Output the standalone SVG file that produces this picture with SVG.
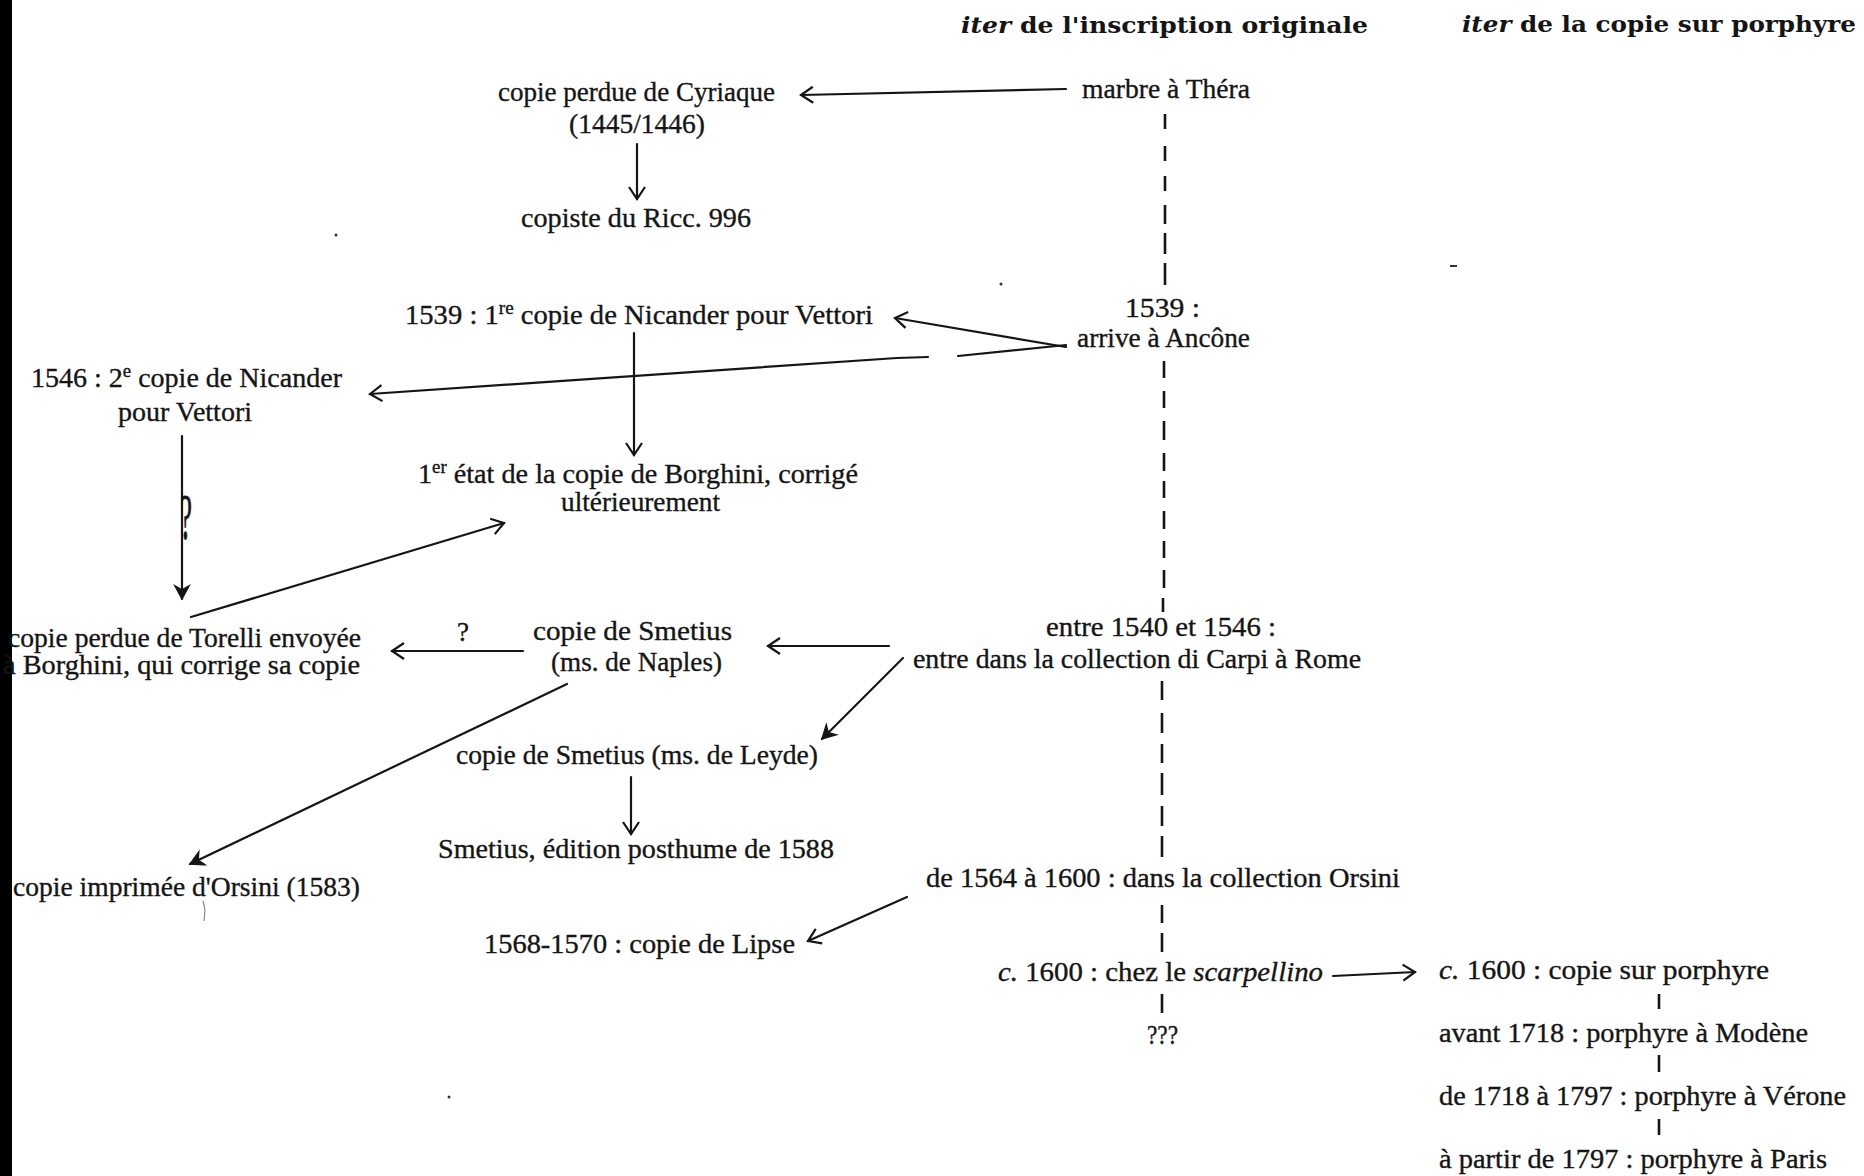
<svg xmlns="http://www.w3.org/2000/svg" width="1864" height="1176" viewBox="0 0 1864 1176">
<style>
.t{font-family:"Liberation Serif","Times New Roman",serif;font-size:27px;fill:#151515;stroke:#151515;stroke-width:0.35}
.h{font-family:"DejaVu Serif","Liberation Serif",serif;font-size:22px;font-weight:bold;fill:#151515}
.c{fill:none;stroke:#151515;stroke-width:2.2;stroke-linecap:round}
.d{fill:none;stroke:#151515;stroke-width:2.6}
.sup{font-size:18px}
</style>
<defs>
<marker id="open" viewBox="-15 -11 17 22" refX="0" refY="0" markerWidth="17" markerHeight="22" orient="auto" markerUnits="userSpaceOnUse">
<path d="M-12,-8 L0,0 L-12,8" fill="none" stroke="#151515" stroke-width="2.2"/>
</marker>
<marker id="solid" viewBox="-15 -11 17 22" refX="0" refY="0" markerWidth="17" markerHeight="22" orient="auto" markerUnits="userSpaceOnUse">
<path d="M-13,-7 L0,0 L-13,7 L-9,0 Z" fill="#151515" stroke="#151515" stroke-width="1.5"/>
</marker>
</defs>
<rect width="1864" height="1176" fill="#ffffff"/>
<rect x="0" y="0" width="12" height="1176" fill="#000000"/>

<g id="headers">
<text id="h1" class="h" x="961" y="33" textLength="407" lengthAdjust="spacingAndGlyphs"><tspan font-style="italic">iter</tspan> de l'inscription originale</text>
<text id="h2" class="h" x="1462" y="32" textLength="394" lengthAdjust="spacingAndGlyphs"><tspan font-style="italic">iter</tspan> de la copie sur porphyre</text>
</g>

<g id="connectors">
<path class="c" d="M1066,89 L801,95" marker-end="url(#open)"/>
<path class="c" d="M637,144 L637,199" marker-end="url(#open)"/>
<path class="c" d="M1066,347 L895,318" marker-end="url(#open)"/>
<path class="c" d="M1066,345 L958,356 M928,357 L897,358 L370,394" marker-end="url(#open)"/>
<path class="c" d="M634,333 L634,455" marker-end="url(#open)"/>
<path class="c" d="M182,436 L182,599" marker-end="url(#solid)"/>
<path class="c" d="M191,617 L504,523" marker-end="url(#open)"/>
<path class="c" d="M523,651 L392,651" marker-end="url(#open)"/>
<path class="c" d="M889,646 L768,646" marker-end="url(#open)"/>
<path class="c" d="M903,658 L822,739" marker-end="url(#solid)"/>
<path class="c" d="M567,684 L190,864" marker-end="url(#solid)"/>
<path class="c" d="M631,777 L631,834" marker-end="url(#open)"/>
<path class="c" d="M907,897 L808,941" marker-end="url(#open)"/>
<path class="c" d="M1333,976 L1415,972" marker-end="url(#open)"/>
<path class="d" d="M1165,114 V129 M1165,146 V161 M1165,176 V191 M1165,205 V224 M1165,233 V254 M1165,263 V285
M1164,361 V378 M1164,391 V408 M1164,421 V440 M1164,453 V471 M1164,481 V498 M1164,511 V529 M1164,541 V558 M1164,570 V588 M1163,598 V612
M1162,681 V700 M1162,713 V733 M1162,744 V763 M1162,773 V795 M1162,806 V826 M1162,836 V857
M1162,905 V923 M1162,933 V952
M1162,994 V1013
M1659,994 V1009 M1659,1055 V1072 M1659,1119 V1135"/>
</g>

<g id="n-thera"><text class="t" x="1082" y="98" textLength="168" lengthAdjust="spacingAndGlyphs">marbre à Théra</text></g>
<g id="n-cyriaque">
<text class="t" x="498" y="101" textLength="277" lengthAdjust="spacingAndGlyphs">copie perdue de Cyriaque</text>
<text class="t" x="569" y="133" textLength="136" lengthAdjust="spacingAndGlyphs">(1445/1446)</text>
</g>
<g id="n-ricc"><text class="t" x="521" y="227" textLength="230" lengthAdjust="spacingAndGlyphs">copiste du Ricc. 996</text></g>
<g id="n-nicander1"><text class="t" x="405" y="324" textLength="468" lengthAdjust="spacingAndGlyphs">1539 : 1<tspan class="sup" dy="-10">re</tspan><tspan dy="10"> copie de Nicander pour Vettori</tspan></text></g>
<g id="n-ancone">
<text class="t" x="1125" y="317" textLength="75" lengthAdjust="spacingAndGlyphs">1539 :</text>
<text class="t" x="1077" y="347" textLength="173" lengthAdjust="spacingAndGlyphs">arrive à Ancône</text>
</g>
<g id="n-nicander2">
<text class="t" x="31" y="387" textLength="311" lengthAdjust="spacingAndGlyphs">1546 : 2<tspan class="sup" dy="-10">e</tspan><tspan dy="10"> copie de Nicander</tspan></text>
<text class="t" x="118" y="421" textLength="134" lengthAdjust="spacingAndGlyphs">pour Vettori</text>
</g>
<g id="n-borghini">
<text class="t" x="418" y="483" textLength="440" lengthAdjust="spacingAndGlyphs">1<tspan class="sup" dy="-10">er</tspan><tspan dy="10"> état de la copie de Borghini, corrigé</tspan></text>
<text class="t" x="561" y="511" textLength="159" lengthAdjust="spacingAndGlyphs">ultérieurement</text>
</g>
<g id="q-vertical"><text class="t" x="0" y="0" font-size="36" text-anchor="middle" transform="translate(186,539) scale(1,2.4)">?</text></g>
<g id="n-torelli">
<text class="t" x="8" y="647" textLength="353" lengthAdjust="spacingAndGlyphs">copie perdue de Torelli envoyée</text>
<text class="t" x="3" y="674" textLength="357" lengthAdjust="spacingAndGlyphs">à Borghini, qui corrige sa copie</text>
</g>
<g id="q-horizontal"><text class="t" x="463" y="641" font-size="24" text-anchor="middle">?</text></g>
<g id="n-naples">
<text class="t" x="533" y="640" textLength="199" lengthAdjust="spacingAndGlyphs">copie de Smetius</text>
<text class="t" x="551" y="671" textLength="171" lengthAdjust="spacingAndGlyphs">(ms. de Naples)</text>
</g>
<g id="n-carpi">
<text class="t" x="1046" y="636" textLength="230" lengthAdjust="spacingAndGlyphs">entre 1540 et 1546 :</text>
<text class="t" x="913" y="668" textLength="448" lengthAdjust="spacingAndGlyphs">entre dans la collection di Carpi à Rome</text>
</g>
<g id="n-leyde"><text class="t" x="456" y="764" textLength="362" lengthAdjust="spacingAndGlyphs">copie de Smetius (ms. de Leyde)</text></g>
<g id="n-edition"><text class="t" x="438" y="858" textLength="396" lengthAdjust="spacingAndGlyphs">Smetius, édition posthume de 1588</text></g>
<g id="n-orsini-print"><text class="t" x="13" y="896" textLength="347" lengthAdjust="spacingAndGlyphs">copie imprimée d'Orsini (1583)</text></g>
<g id="n-orsini-coll"><text class="t" x="926" y="887" textLength="474" lengthAdjust="spacingAndGlyphs">de 1564 à 1600 : dans la collection Orsini</text></g>
<g id="n-lipse"><text class="t" x="484" y="953" textLength="311" lengthAdjust="spacingAndGlyphs">1568-1570 : copie de Lipse</text></g>
<g id="n-scarpellino"><text class="t" x="998" y="981" textLength="325" lengthAdjust="spacingAndGlyphs"><tspan font-style="italic">c.</tspan> 1600 : chez le <tspan font-style="italic">scarpellino</tspan></text></g>
<g id="n-unknown"><text class="t" x="1147" y="1044" textLength="31" lengthAdjust="spacingAndGlyphs">???</text></g>
<g id="n-porphyre"><text class="t" x="1439" y="979" textLength="330" lengthAdjust="spacingAndGlyphs"><tspan font-style="italic">c.</tspan> 1600 : copie sur porphyre</text></g>
<g id="n-modene"><text class="t" x="1439" y="1042" textLength="369" lengthAdjust="spacingAndGlyphs">avant 1718 : porphyre à Modène</text></g>
<g id="n-verone"><text class="t" x="1439" y="1105" textLength="407" lengthAdjust="spacingAndGlyphs">de 1718 à 1797 : porphyre à Vérone</text></g>
<g id="n-paris"><text class="t" x="1439" y="1168" textLength="388" lengthAdjust="spacingAndGlyphs">à partir de 1797 : porphyre à Paris</text></g>

<g id="specks" fill="#333">
<circle cx="336" cy="235" r="1.5"/>
<circle cx="1001" cy="284" r="1.5"/>
<rect x="1450" y="265" width="7" height="2"/>
<circle cx="449" cy="1097" r="1.5"/>
<path d="M203,901 L205,910 L204,921" fill="none" stroke="#888" stroke-width="1.2"/>
</g>
</svg>
